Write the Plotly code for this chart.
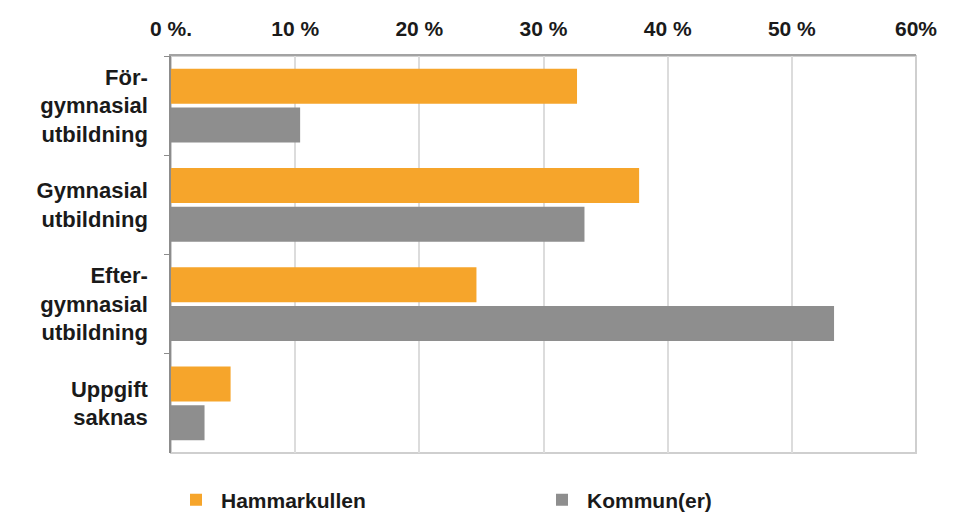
import plotly.graph_objects as go

categories = ["För-<br>gymnasial<br>utbildning", "Gymnasial<br>utbildning",
              "Efter-<br>gymnasial<br>utbildning", "Uppgift<br>saknas"]
hammarkullen = [32.7, 37.7, 24.6, 4.8]
kommun = [10.4, 33.3, 53.4, 2.7]
tick_vals = [0, 10, 20, 30, 40, 50, 60]
tick_text = ["0 %.", "10 %", "20 %", "30 %", "40 %", "50 %", "60%"]

FONT = "Arial, Liberation Sans, Helvetica, sans-serif"

fig = go.Figure()
fig.add_trace(go.Bar(y=categories, x=hammarkullen, orientation="h", name="Hammarkullen",
                     marker=dict(color="#F6A52B", line=dict(width=0))))
fig.add_trace(go.Bar(y=categories, x=kommun, orientation="h", name="Kommun(er)",
                     marker=dict(color="#8E8E8E", line=dict(width=0))))

fig.update_layout(
    width=959, height=517,
    margin=dict(l=163, r=51, t=48, b=72),
    paper_bgcolor="white", plot_bgcolor="white",
    barmode="group", bargap=0.22, bargroupgap=0.1,
    font=dict(family=FONT, color="#1a1a1a"),
    showlegend=True,
    legend=dict(orientation="h", x=0.0, xanchor="left",
                yref="container", y=0.048, yanchor="middle",
                font=dict(size=21, family=FONT, color="#1a1a1a", weight="bold"),
                entrywidth=311, entrywidthmode="pixels", traceorder="normal",
                itemwidth=40, bgcolor="rgba(0,0,0,0)"),
    shapes=[dict(type="rect", xref="paper", yref="paper", x0=0, x1=1, y0=0, y1=1,
                 line=dict(color="#cfcfcf", width=2), layer="below")],
)
fig.update_xaxes(
    side="top", range=[0, 60], tickvals=tick_vals, ticktext=tick_text,
    showgrid=True, gridcolor="#dcdcdc", gridwidth=1.5,
    showline=True, linecolor="#a3a3a3", linewidth=2,
    ticks="", ticklabelstandoff=10, automargin=False,
    tickfont=dict(size=21, family=FONT, color="#1a1a1a", weight="bold"),
    zeroline=False, fixedrange=True,
)
fig.update_yaxes(
    autorange="reversed", type="category", automargin=False,
    showline=True, linecolor="#8c8c8c", linewidth=1.5,
    ticks="outside", tickson="boundaries", ticklen=5, tickcolor="#8c8c8c",
    ticklabelstandoff=17, showgrid=False,
    tickfont=dict(size=22, family=FONT, color="#1a1a1a", weight="bold"),
)

fig.write_html("out.html")
